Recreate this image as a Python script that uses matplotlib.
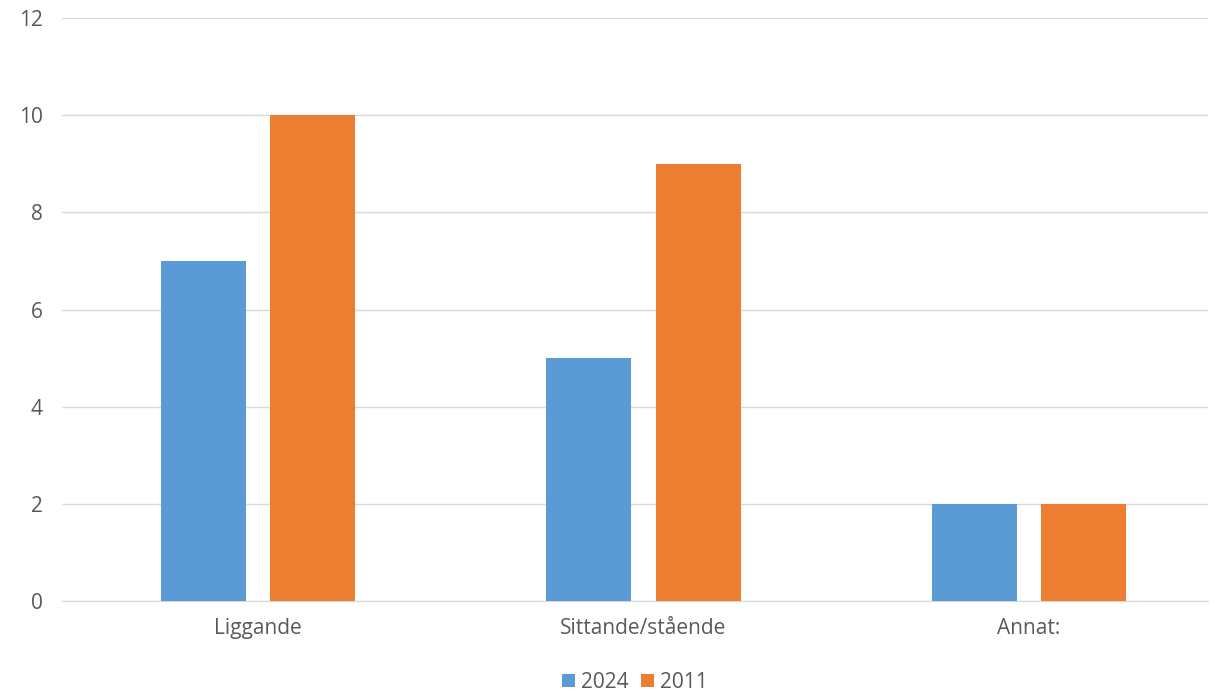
import numpy as np
import matplotlib.pyplot as plt

plt.rcParams['font.family'] = ['Open Sans', 'DejaVu Sans']

categories = ["Liggande", "Sittande/stående", "Annat:"]
series_names = ["2024", "2011"]
values_2024 = [7, 5, 2]
values_2011 = [10, 9, 2]
colors = ["#5B9BD5", "#ED7D31"]

fig = plt.figure(figsize=(12.1, 6.95), dpi=100)
ax = fig.add_axes([62 / 1210, 1 - 601 / 695, 1146 / 1210, 583 / 695])

x = np.arange(len(categories))
w = 0.22
off = 0.142
ax.bar(x - off, values_2024, w, color=colors[0], label=series_names[0], zorder=3)
ax.bar(x + off, values_2011, w, color=colors[1], label=series_names[1], zorder=3)

ax.set_xlim(-0.508, 2.464)
ax.set_ylim(0, 12)
ax.set_yticks(range(0, 13, 2))
ax.set_xticks(x)
ax.set_xticklabels(categories)
ax.yaxis.grid(True, color="#D9D9D9", linewidth=1, zorder=0)
for s in ["top", "right", "left"]:
    ax.spines[s].set_visible(False)
ax.spines["bottom"].set_color("#D9D9D9")
ax.tick_params(axis="both", length=0, labelsize=15, colors="#595959")
ax.tick_params(axis="y", pad=14)
ax.tick_params(axis="x", pad=12)

ax.legend(loc="upper center", bbox_to_anchor=(0.5, -0.1), ncol=2, frameon=False,
          fontsize=15, handlelength=0.6, handleheight=0.6, handletextpad=0.3,
          columnspacing=0.6, labelcolor="#595959", borderaxespad=0.2)

fig.savefig("out.png", dpi=100)
